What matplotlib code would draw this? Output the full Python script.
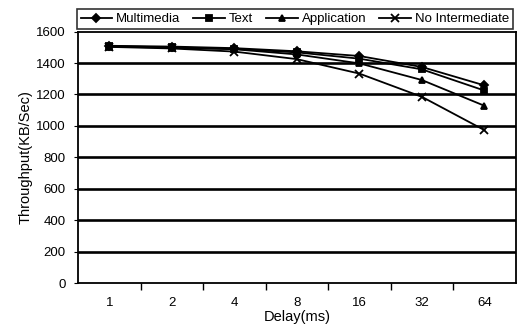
import numpy as np
import matplotlib.pyplot as plt

plt.rcParams['font.family'] = ['Liberation Sans', 'DejaVu Sans']

delays = ["1", "2", "4", "8", "16", "32", "64"]
multimedia = [1510, 1505, 1495, 1475, 1445, 1375, 1258]
text = [1508, 1500, 1490, 1468, 1428, 1360, 1225]
application = [1505, 1498, 1488, 1455, 1398, 1292, 1128]
no_intermediate = [1503, 1493, 1473, 1425, 1333, 1185, 973]

fig = plt.figure(figsize=(5.18, 3.29), dpi=100)
ax = fig.add_axes([0.1506, 0.1398, 0.845, 0.764])

x = np.arange(len(delays))
series = [
    ("Multimedia", multimedia, "D", 4),
    ("Text", text, "s", 5),
    ("Application", application, "^", 5),
    ("No Intermediate", no_intermediate, "x", 6),
]
for name, vals, mk, ms in series:
    ax.plot(x, vals, color="black", linewidth=1.3, marker=mk, markersize=ms,
            markeredgewidth=1.3, label=name)

ax.set_xlim(-0.5, len(delays) - 0.5)
ax.set_ylim(0, 1600)
ax.set_yticks(np.arange(0, 1601, 200))
ax.set_xticks(x)
ax.set_xticklabels(delays)
ax.set_xticks(np.arange(0.5, len(delays) - 1, 1), minor=True)
ax.tick_params(axis="x", which="major", length=0, pad=10, labelsize=9.5)
ax.tick_params(axis="x", which="minor", length=5, direction="out", width=1)
ax.tick_params(axis="y", length=3, direction="out", labelsize=9.5, pad=6)

for v in range(200, 1600, 200):
    ax.axhline(v, color="black", linewidth=1.9, zorder=0)

for s in ax.spines.values():
    s.set_linewidth(1.3)

ax.set_xlabel("Delay(ms)", fontsize=10.5, labelpad=1)
ax.set_ylabel("Throughput(KB/Sec)", fontsize=10.5, labelpad=2)

leg = ax.legend(loc="lower left", bbox_to_anchor=(-0.003, 1.01, 0.997, 0.085), ncol=4,
                mode="expand", frameon=True, fancybox=False, fontsize=9.5,
                handlelength=2.4, handletextpad=0.3, columnspacing=0.8,
                borderaxespad=0, borderpad=0.3)
leg.get_frame().set_edgecolor("black")
leg.get_frame().set_linewidth(1.2)

fig.savefig("out.png", dpi=100)
